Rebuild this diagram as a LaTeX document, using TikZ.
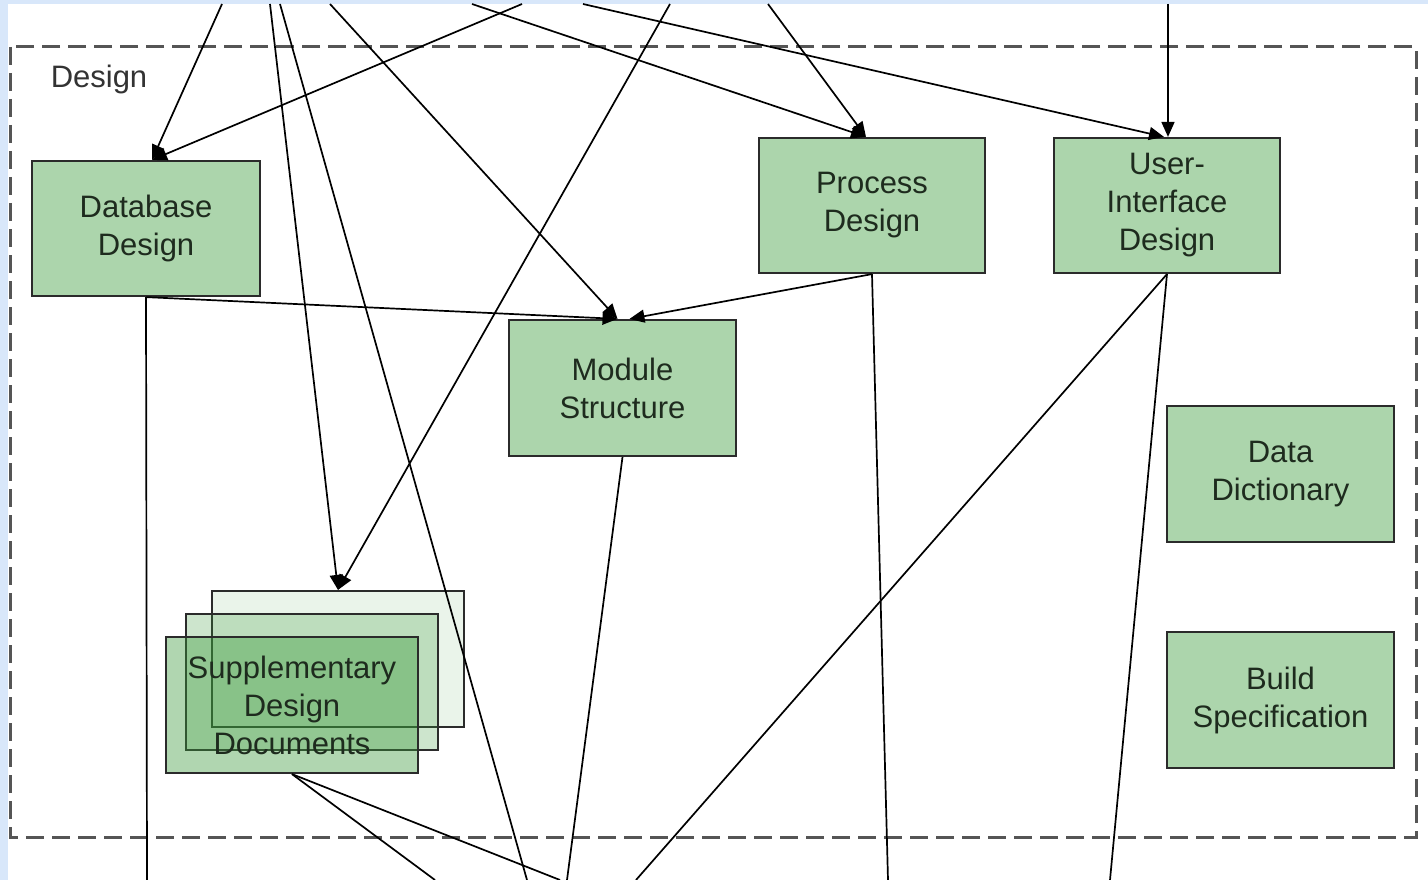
\documentclass[tikz,border=0pt]{standalone}
\usepackage{fontspec}
\setmainfont{Liberation Sans}
\usetikzlibrary{arrows.meta}
\definecolor{bgblue}{HTML}{D8E7FA}
\definecolor{boxgreen}{HTML}{ACD5AC}
\definecolor{suppgreen}{HTML}{3A9A3A}
\definecolor{boxline}{HTML}{2B2B2B}
\definecolor{txt}{HTML}{1E2B1E}
\definecolor{framegray}{HTML}{555555}
\tikzset{
  box/.style={draw=boxline, line width=2.2pt, fill=boxgreen, minimum width=227pt,
    minimum height=136pt, inner sep=0pt, align=center, text=txt,
    font=\fontsize{31}{38}\selectfont},
  suppbox/.style={box, fill=suppgreen, minimum width=252pt, text opacity=1},
  conn/.style={draw=black, line width=1.7pt},
  arr/.style={conn, -{Triangle[length=15pt,width=13pt]}},
  frame/.style={draw=framegray, line width=3pt, dash pattern=on 18pt off 8pt},
  titletext/.style={text=black!80, font=\fontsize{31}{38}\selectfont, inner sep=0pt},
}
\begin{document}
\begin{tikzpicture}[x=1pt,y=-1pt]
\fill[bgblue] (0,0) rectangle (1428,880);
\fill[white] (8,4) rectangle (1428,880);
\useasboundingbox (0,0) rectangle (1428,880);

\draw[frame] (10,47) rectangle (1416,837);
\node[titletext] (title) at (99,79) {Design};

% boxes
\node[box, minimum width=228pt, minimum height=135pt] (db) at (146,228.5) {Database\\Design};
\node[box, minimum width=226pt, minimum height=135pt] (pd) at (872,205.5) {Process\\Design};
\node[box, minimum width=226pt, minimum height=135pt] (ui) at (1167,205.5) {User-\\Interface\\Design};
\node[box] (ms) at (622.5,388) {Module\\Structure};
\node[box] (dd) at (1280.5,474) {Data\\Dictionary};
\node[box] (bs) at (1280.5,700) {Build\\Specification};

\node[suppbox, fill opacity=0.1] (sb) at (338,659) {};
\node[suppbox, fill opacity=0.25] (sm) at (312,682) {};
\node[suppbox, fill opacity=0.4] (sf) at (292,705) {Supplementary\\Design\\Documents};

% free ends at top
\coordinate (t1) at (222,4);
\coordinate (t2) at (522,4);
\coordinate (t3) at (472,4);
\coordinate (t4) at (583,4);
\coordinate (t5) at (1168,4);
\coordinate (t6) at (768,4);
\coordinate (t7) at (670,4);
\coordinate (t8) at (270,4);
\coordinate (t9) at (280,4);
\coordinate (t10) at (330,4);
% free ends at bottom
\coordinate (b1) at (147,880);
\coordinate (b2) at (435,880);
\coordinate (b3) at (560,880);
\coordinate (b4) at (527,880);
\coordinate (b5) at (567,880);
\coordinate (b6) at (636,880);
\coordinate (b7) at (888,880);
\coordinate (b8) at (1110,880);

% incoming arrows
\draw[arr] (t1) -- ([xshift=6pt]db.north);
\draw[arr] (t2) -- ([xshift=6pt]db.north);
\draw[arr] (t3) -- ([xshift=-6pt]pd.north);
\draw[arr] (t6) -- ([xshift=-6pt]pd.north);
\draw[arr] (t4) -- ([xshift=-3pt]ui.north);
\draw[arr] (t5) -- ([xshift=1pt]ui.north);
\draw[arr] (t7) -- (sb.north);
\draw[arr] (t8) -- (sb.north);
\draw[arr] (t10) -- ([xshift=-5pt]ms.north);
\draw[arr] (db.south) -- ([xshift=-5pt]ms.north);
\draw[arr] (pd.south) -- ([xshift=7pt]ms.north);

% through line and outgoing lines
\draw[conn] (t9) -- (b4);
\draw[conn] (db.south) -- (b1);
\draw[conn] (sf.south) -- (b2);
\draw[conn] (sf.south) -- (b3);
\draw[conn] (ms.south) -- (b5);
\draw[conn] (ui.south) -- (b6);
\draw[conn] (pd.south) -- (b7);
\draw[conn] (ui.south) -- (b8);
\end{tikzpicture}
\end{document}
